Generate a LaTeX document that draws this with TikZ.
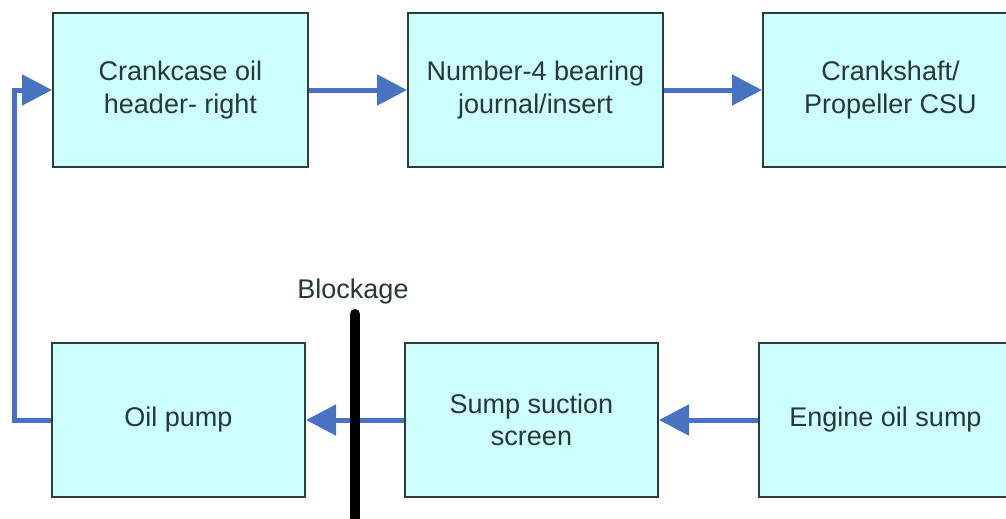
\documentclass[tikz,border=0pt]{standalone}
\usepackage{fontspec}
\setmainfont{Liberation Sans}
\usetikzlibrary{arrows.meta}
\definecolor{boxfill}{RGB}{204,255,255}
\definecolor{boxline}{RGB}{45,60,60}
\definecolor{txt}{RGB}{40,55,55}
\definecolor{arr}{RGB}{72,115,192}
\begin{document}
\begin{tikzpicture}[x=1pt,y=-1pt,
  box/.style={draw=boxline,fill=boxfill,line width=2pt,minimum width=255pt,minimum height=154pt,
    inner sep=0pt,align=center,text=txt,font=\fontsize{27}{32.5}\selectfont},
  flow/.style={draw=arr,line width=5pt,-{Triangle[length=30pt,width=30pt]}}]
\useasboundingbox (0,0) rectangle (1006,519);
\clip (0,0) rectangle (1006,519);
\node[box] (b1) at (180.5,90) {Crankcase oil\\header- right};
\node[box] (b2) at (535.5,90) {Number-4 bearing\\journal/insert};
\node[box] (b3) at (890.5,90) {Crankshaft/\\Propeller CSU};
\node[box,minimum width=253pt] (b4) at (178.5,420) {Oil pump};
\node[box,minimum width=253pt] (b5) at (531.5,420) {Sump suction\\screen};
\node[box,minimum width=253pt] (b6) at (885.5,420) {Engine oil sump};
\draw[flow] (b1.east) -- (b2.west);
\draw[flow] (b2.east) -- (b3.west);
\draw[flow] (b6.west) -- (b5.west -| b5.east);
\draw[flow] (b5.west) -- (b4.east);
\coordinate (c1) at (14,420);
\draw[flow,line join=miter] (b4.west) -- (c1) |- (b1.west);
\coordinate (bt) at (355,314);
\coordinate (bb) at (355,540);
\draw[black,line width=10pt,line cap=round] (bt) -- (bb);
\node[text=txt,font=\fontsize{27}{32}\selectfont] (blk) at (353,292) {Blockage};
\end{tikzpicture}
\end{document}
